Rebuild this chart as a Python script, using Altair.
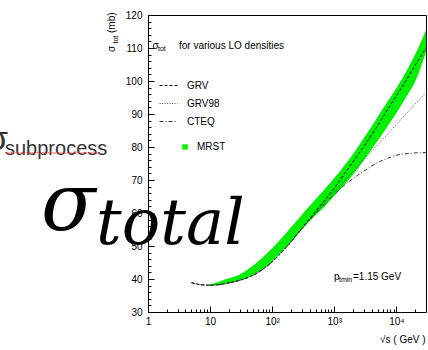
import altair as alt
import pandas as pd

# ---------------- data ----------------
sqrt_s = [5, 7, 10, 15, 20, 30, 50, 70, 100, 150, 200, 300, 500, 700,
          1000, 1500, 2000, 3000, 5000, 7000, 10000, 15000, 20000, 30000]
grv = [38.9, 38.3, 38.1, 38.35, 38.8, 39.6, 41.2, 42.9, 45.2, 48.6, 51.2, 55.3,
       60.5, 63.9, 67.5, 72.2, 75.5, 80.2, 86.5, 90.9, 95.5, 100.8, 104.7, 110.0]
grv98 = [38.9, 38.3, 38.1, 38.35, 38.8, 39.6, 41.2, 42.9, 45.2, 48.6, 51.2, 55.3,
         60.2, 63.2, 66.4, 70.0, 72.6, 76.2, 80.7, 83.6, 86.8, 90.4, 93.0, 96.5]
cteq = [38.9, 38.3, 38.1, 38.35, 38.8, 39.6, 41.2, 42.9, 45.2, 48.6, 51.2, 55.2,
        59.9, 62.8, 65.7, 68.6, 70.4, 72.7, 75.3, 76.5, 77.5, 78.0, 78.2, 78.3]

mrst_s = [8, 10, 15, 20, 30, 50, 70, 100, 150, 200, 300, 500, 700, 1000,
          1500, 2000, 3000, 5000, 7000, 10000, 15000, 20000, 30000]
mrst_lo = [38.2, 38.1, 38.3, 38.8, 39.6, 41.3, 43.0, 45.4, 48.8, 51.3, 55.0, 59.3,
           62.0, 65.2, 68.9, 71.6, 76.0, 81.9, 85.9, 90.3, 95.7, 99.8, 108.7]
mrst_hi = [38.2, 38.4, 39.4, 40.2, 41.4, 44.2, 46.5, 49.3, 52.9, 55.6, 59.5, 64.2,
           67.2, 70.6, 74.7, 77.8, 82.7, 89.1, 93.4, 97.8, 103.5, 108.0, 115.4]

pdf_names = ["GRV", "GRV98", "CTEQ"]
band_name = ["MRST"]

x_major = [1, 10, 100, 1000, 10000]
x_major_labels = ["1", "10", "10²", "10³", "10⁴"]
x_minor = [m * 10 ** k for k in range(5) for m in range(2, 10) if m * 10 ** k < 30000]
y_major = [30, 40, 50, 60, 70, 80, 90, 100, 110, 120]
y_minor = list(range(30, 121, 2))

# ---------------- tables ----------------
rows = []
for name, vals in zip(pdf_names, [grv, grv98, cteq]):
    for s, v in zip(sqrt_s, vals):
        rows.append({"s": s, "sigma": v, "pdf": name})
df_lines = pd.DataFrame(rows)
df_band = pd.DataFrame({"s": mrst_s, "lo": mrst_lo, "hi": mrst_hi, "pdf": band_name * len(mrst_s)})

FONT = "Liberation Sans"
OX, OY = 148, 15  # plot origin inside the page

xscale = alt.Scale(type="log", domain=[1, 30000], nice=False)
yscale = alt.Scale(domain=[30, 120], nice=False, zero=False)

label_expr = " : ".join(f"datum.value == {v} ? '{l}'" for v, l in zip(x_major, x_major_labels)) + " : ''"

major_x = alt.Axis(orient="bottom", values=x_major, labelExpr=label_expr, tickSize=6, offset=-6,
                   domain=False, grid=False, labelPadding=4, labelFontSize=10, labelFont=FONT,
                   labelColor="black", tickColor="black", title=None, labelFlush=False)
major_y = alt.Axis(orient="left", values=y_major, tickSize=6, offset=-6, domain=False, grid=False,
                   labelPadding=6, labelFontSize=10, labelFont=FONT, labelColor="black",
                   tickColor="black", title=None)
minor_x = alt.Axis(orient="bottom", values=x_minor, tickSize=3, offset=-3, domain=False, grid=False,
                   labels=False, tickColor="black", title=None)
minor_y = alt.Axis(orient="left", values=y_minor, tickSize=3, offset=-3, domain=False, grid=False,
                   labels=False, tickColor="black", title=None)

band = alt.Chart(df_band).mark_area(interpolate="monotone", opacity=1).encode(
    x=alt.X("s:Q", scale=xscale, axis=major_x),
    y=alt.Y("lo:Q", scale=yscale, axis=major_y),
    y2="hi:Q",
    fill=alt.Fill("pdf:N", scale=alt.Scale(domain=band_name, range=["#00f000"]),
                  legend=alt.Legend(orient="none", legendX=32, legendY=127, title=None,
                                    symbolType="square", symbolSize=30, symbolStrokeWidth=0,
                                    labelFont=FONT, labelFontSize=10, labelOffset=7, padding=0)),
)

dash_legend = alt.Legend(orient="none", legendX=11, legendY=61, title=None, symbolType="stroke",
                         symbolSize=324, symbolStrokeWidth=1, labelFont=FONT, labelFontSize=10,
                         labelOffset=9, rowPadding=3, padding=0)

lines = alt.Chart(df_lines).mark_line(interpolate="monotone", strokeWidth=1).encode(
    x=alt.X("s:Q", scale=xscale, axis=minor_x),
    y=alt.Y("sigma:Q", scale=yscale, axis=minor_y),
    stroke=alt.Stroke("pdf:N", scale=alt.Scale(domain=pdf_names, range=["#000000", "#555555", "#333333"]),
                      legend=dash_legend),
    strokeDash=alt.StrokeDash("pdf:N", scale=alt.Scale(domain=pdf_names, range=[[3, 2], [1, 1.5], [4, 2, 1, 2]]),
                              legend=dash_legend),
)


def label(txt, px, py, size, font=FONT, angle=0, style="normal", color="black", opacity=1):
    kw = dict(align="left", baseline="alphabetic", fontSize=size, font=font, color=color,
              fontStyle=style, opacity=opacity)
    if angle:
        kw["angle"] = angle
    return alt.Chart(pd.DataFrame({"t": [txt]})).mark_text(**kw).encode(
        text="t:N", x=alt.value(px - OX), y=alt.value(py - OY))


texts = [
    # y-axis title
    label("σ", 115, 52, 10, angle=270),
    label("tot", 117.5, 43.5, 7, angle=270),
    label("(mb)", 115, 33, 10, angle=270),
    # x-axis title
    label("√s ( GeV )", 380, 343, 10),
    # legend heading
    label("σ", 152.5, 48.5, 10),
    label("tot", 158, 51, 7),
    label("for various LO densities", 179, 48.5, 10),
    # cut annotation
    label("p", 334, 279.5, 10),
    label("tmin", 339, 282, 7),
    label("=1.15 GeV", 353, 279.5, 10),
    # overlaid formula texts
    label("σ", -13, 150, 34, color="#333333"),
    label("subprocess", 5, 155, 20, color="#333333"),
    label("~~~~~~~~~~~~~~~~~~", 4, 156, 9, color="#ff3030", opacity=0.8),
    label("σ", 41, 230, 80, font="DejaVu Serif", style="italic"),
    label("total", 96, 244, 64, font="DejaVu Serif", style="italic"),
]

chart = alt.layer(band, lines, *texts).resolve_axis(
    x="independent", y="independent"
).resolve_scale(x="shared", y="shared").properties(
    width=278, height=297,
    autosize=alt.AutoSizeParams(type="none"),
    padding={"left": OX, "top": OY, "right": 2, "bottom": 35},
    background="white",
).configure_view(stroke="black", strokeWidth=1)

chart.save("out.html", embed_options={"renderer": "svg", "actions": False})
